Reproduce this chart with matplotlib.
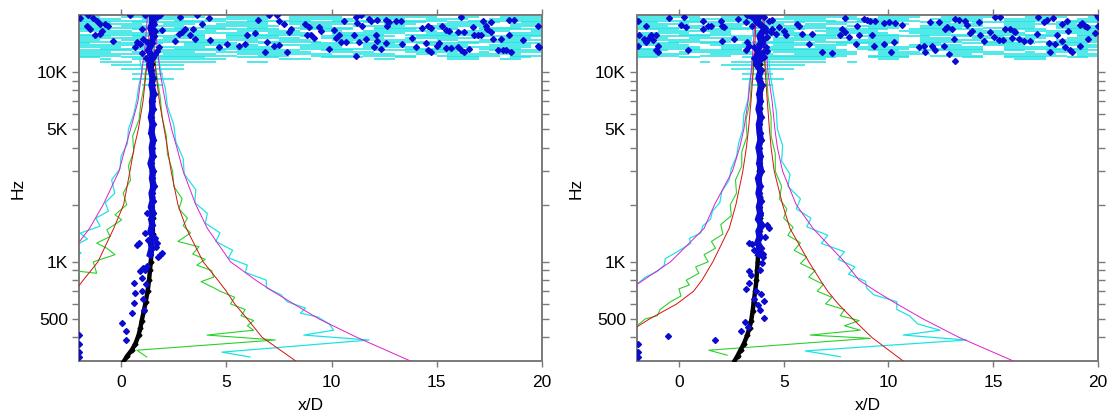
import matplotlib.pyplot as plt
from matplotlib.ticker import FixedLocator, NullFormatter

plt.rcParams['font.family'] = ['Liberation Sans', 'DejaVu Sans']

CYAN = '#1fe3e3'
GREEN = '#2ad12a'
RED = '#d81010'
MAG = '#dc1fd0'
BLUE = '#0a0ad0'
GREY = '#7a7a7a'

# frequency grid of the fitted curves (Hz)
FREQ = [300, 400, 500, 600, 700, 800, 1000, 1500, 2000, 3000, 4000, 5000, 7000, 10000, 14000, 20000]

# fitted curves, left plot (x/D)
red1_l = [-5.5, -3.9, -3.2, -2.6, -2.2, -1.8, -1.1, -0.35, 0.12, 0.42, 0.62, 0.82, 1.04, 1.19, 1.3, 1.38]
red1_r = [8.3, 6.7, 6.0, 5.4, 5.0, 4.6, 3.9, 3.1, 2.7, 2.38, 2.2, 2.05, 1.82, 1.65, 1.55, 1.5]
mag1_l = [-11.0, -8.4, -6.8, -5.6, -4.6, -3.8, -2.7, -1.5, -0.85, -0.1, 0.2, 0.45, 0.8, 0.98, 1.15, 1.25]
mag1_r = [13.75, 11.2, 9.4, 8.2, 7.2, 6.4, 5.2, 4.1, 3.55, 2.95, 2.65, 2.4, 2.1, 1.85, 1.7, 1.6]

# fitted curves, right plot
red2_l = [-4.5, -2.8, -1.4, -0.1, 0.7, 1.1, 1.62, 2.4, 2.72, 3.05, 3.22, 3.32, 3.44, 3.54, 3.62, 3.7]
red2_r = [10.7, 9.2, 8.3, 7.6, 7.1, 6.75, 6.2, 5.3, 4.95, 4.55, 4.4, 4.32, 4.22, 4.12, 4.05, 4.0]
mag2_l = [-8.0, -5.8, -4.4, -3.3, -2.5, -1.7, -0.4, 1.2, 1.7, 2.55, 2.9, 3.1, 3.3, 3.45, 3.55, 3.65]
mag2_r = [15.96, 13.36, 11.65, 10.4, 9.4, 8.6, 7.9, 6.4, 5.6, 4.95, 4.7, 4.58, 4.45, 4.25, 4.15, 4.05]

# measured traces (Hz, x/D)
grn1_r = [(315, 1.22), (342, 0.75), (387, 7.33), (411, 4.08), (436, 6.3), (460, 6.0), (490, 6.3), (520, 5.7),
          (560, 5.9), (600, 5.2), (650, 5.4), (700, 4.7), (730, 4.4), (786, 3.8), (830, 4.4), (900, 4.3),
          (960, 3.6), (1030, 4.0), (1100, 3.4), (1200, 3.7), (1280, 2.7), (1420, 3.3), (1550, 2.95),
          (1700, 3.15), (1900, 2.75), (2150, 2.9), (2500, 2.5), (3000, 2.45), (3700, 2.2), (4600, 2.15),
          (5800, 1.95), (7500, 1.85), (9500, 1.7), (11500, 1.6)]
grn1_l = [(500, -3.6), (600, -2.9), (700, -2.5), (800, -2.2), (890, -1.95), (870, -1.16), (1000, -1.32),
          (1090, -0.29), (1180, -0.68), (1255, -1.16), (1360, -0.52), (1475, -0.68), (1665, 0.03),
          (1770, -0.29), (2000, 0.27), (2300, 0.1), (2700, 0.45), (3200, 0.35), (3800, 0.6), (4600, 0.55),
          (5600, 0.85), (7000, 0.95), (8500, 1.1), (10000, 1.15), (11500, 1.3)]
cyan1_r = [(315, 6.13), (334, 4.79), (387, 11.78), (411, 8.68), (436, 10.1), (470, 9.9), (513, 9.32),
           (536, 8.52), (570, 8.76), (616, 7.89), (670, 7.6), (730, 6.9), (800, 6.9), (880, 5.9), (960, 6.0),
           (1050, 5.1), (1150, 5.3), (1280, 4.5), (1420, 4.7), (1600, 4.0), (1800, 4.1), (2050, 3.5),
           (2400, 3.55), (2900, 3.0), (3500, 2.95), (4300, 2.6), (5300, 2.5), (6600, 2.2), (8200, 2.1),
           (10000, 1.9), (11500, 1.8)]
cyan1_l = [(800, -3.9), (1000, -2.9), (1110, -1.9), (1200, -2.3), (1320, -1.6), (1415, -1.95), (1540, -1.0),
           (1700, -1.2), (1850, -0.6), (2050, -0.75), (2300, -0.3), (2700, -0.45), (3100, -0.05), (3600, 0.0),
           (4200, 0.3), (5000, 0.35), (6000, 0.6), (7200, 0.75), (8600, 0.85), (10000, 1.0), (11500, 0.9)]

grn2_r = [(322, 2.3), (342, 1.43), (395, 9.13), (411, 6.27), (436, 8.65), (460, 7.9), (490, 8.6), (520, 7.7),
          (560, 7.9), (600, 7.0), (650, 7.3), (700, 6.6), (760, 6.9), (830, 6.2), (900, 6.5), (980, 5.8),
          (1060, 6.1), (1150, 5.5), (1260, 5.8), (1380, 5.2), (1520, 5.45), (1700, 5.0), (1900, 5.15),
          (2150, 4.8), (2500, 4.9), (3000, 4.6), (3700, 4.6), (4600, 4.4), (5800, 4.4), (7500, 4.25),
          (9500, 4.2), (11500, 4.1)]
grn2_l = [(430, -2.6), (470, -1.9), (500, -1.6), (520, -1.03), (560, -0.9), (616, -0.4), (660, 0.1),
          (720, 0.0), (755, 0.5), (800, 0.35), (870, 0.95), (940, 0.8), (1000, 1.4), (1090, 1.2), (1180, 1.75),
          (1280, 1.55), (1400, 2.1), (1570, 2.0), (1750, 2.5), (2000, 2.45), (2300, 2.75), (2700, 2.7),
          (3200, 3.0), (3800, 3.0), (4600, 3.25), (5600, 3.2), (7000, 3.4), (8500, 3.45), (10000, 3.55),
          (11500, 3.5)]
cyan2_r = [(316, 7.7), (339, 6.03), (387, 13.73), (411, 10.71), (436, 12.46), (470, 11.4), (520, 11.0),
           (560, 10.4), (616, 10.4), (670, 9.3), (725, 8.97), (790, 8.9), (860, 8.1), (940, 8.4), (1030, 7.6),
           (1130, 7.9), (1250, 6.8), (1380, 7.1), (1530, 6.1), (1700, 6.3), (1900, 5.6), (2150, 5.8),
           (2500, 5.2), (2900, 5.3), (3400, 4.9), (4100, 4.95), (5000, 4.7), (6200, 4.65), (7800, 4.5),
           (9800, 4.35), (11500, 4.3)]
cyan2_l = [(700, -2.5), (770, -1.95), (830, -1.6), (890, -1.03), (960, -0.7), (1040, -0.65), (1130, -0.08),
           (1250, 0.56), (1330, 0.5), (1415, 1.03), (1550, 1.15), (1680, 1.51), (1850, 1.6), (2050, 1.95),
           (2350, 2.05), (2700, 2.4), (3100, 2.5), (3600, 2.75), (4200, 2.85), (5000, 3.05), (6000, 3.1),
           (7200, 3.3), (8600, 3.35), (10000, 3.45), (11500, 3.5)]

# core trace (black) and peak track (blue)
CORE_F = [296, 320, 343, 370, 410, 450, 490, 550, 616, 700, 802, 900, 1000, 1200, 1400, 1700, 2200, 3000,
          4500, 6500, 9000, 11000]
core1_x = [0.11, 0.3, 0.51, 0.68, 0.83, 0.92, 0.98, 1.08, 1.17, 1.26, 1.33, 1.37, 1.41, 1.46, 1.51, 1.5,
           1.48, 1.47, 1.48, 1.46, 1.47, 1.45]
core2_x = [2.62, 2.8, 2.94, 3.1, 3.26, 3.37, 3.45, 3.52, 3.57, 3.64, 3.7, 3.73, 3.76, 3.8, 3.84, 3.86,
           3.85, 3.84, 3.86, 3.85, 3.86, 3.85]

PEAK_F = [1100, 1180, 1260, 1350, 1450, 1560, 1680, 1800, 1950, 2100, 2300, 2500, 2750, 3000, 3300, 3600,
          4000, 4400, 4800, 5300, 5800, 6400, 7000, 7700, 8500, 9300, 10200, 11000, 12000, 13000, 14200,
          15500, 17000, 18500, 20000]
peak1_x = [1.38, 1.45, 1.42, 1.5, 1.4, 1.48, 1.44, 1.52, 1.42, 1.5, 1.45, 1.55, 1.47, 1.52, 1.4, 1.5, 1.46,
           1.53, 1.44, 1.5, 1.42, 1.5, 1.47, 1.55, 1.45, 1.5, 1.42, 1.35, 1.5, 1.3, 1.45, 1.55, 1.4, 1.5, 1.45]
peak2_x = [3.8, 3.9, 3.75, 3.85, 3.8, 3.95, 3.78, 3.88, 3.82, 3.9, 3.8, 3.86, 3.78, 3.92, 3.84, 3.88, 3.8,
           3.9, 3.85, 3.82, 3.9, 3.8, 3.88, 3.84, 3.95, 3.8, 3.9, 3.7, 4.0, 3.75, 3.95, 3.85, 4.1, 3.7, 3.9]

# scattered peaks (x/D, Hz)
pts1 = [(-1.99, 410), (-1.99, 368), (-1.99, 336), (-1.99, 314), (0.59, 776), (0.67, 683), (0.59, 605),
        (0.54, 535), (0.06, 476), (0.24, 432), (0.24, 385), (0.9, 890), (1.0, 820), (0.98, 700), (1.05, 640),
        (1.1, 560), (1.2, 760), (1.38, 1090), (1.94, 1110), (1.75, 1060), (0.75, 1230), (0.85, 1260),
        (1.14, 1415), (1.22, 1810), (1.3, 1300), (1.65, 1200), (1.6, 1330), (1.25, 950), (1.15, 900),
        (1.06, 930), (1.86, 1090), (1.7, 1255), (1.46, 1180),
        (-1.95, 19300), (-1.56, 19900), (-1.32, 19300), (-1.16, 18700), (-1.0, 17900), (-0.76, 17900),
        (-0.6, 17400), (-1.63, 17600), (-1.48, 16900), (-1.24, 15600), (-1.0, 15900), (-0.92, 16400),
        (-0.37, 14500), (0.43, 19900), (1.14, 19900), (1.49, 19500), (1.86, 19900), (1.7, 19500),
        (0.98, 16900), (0.75, 14400), (0.9, 14100), (1.06, 15000), (1.22, 14400), (1.46, 15900),
        (1.62, 16500), (1.54, 17900), (1.94, 16700), (1.78, 13500), (0.67, 13500), (2.57, 14600),
        (2.73, 15900), (2.89, 16200), (2.81, 19500), (3.05, 16900), (3.29, 15600), (3.52, 15000),
        (3.6, 19900), (3.84, 17900), (4.16, 19300), (3.44, 16900), (4.24, 14800), (4.63, 13500),
        (5.03, 14100), (5.59, 13800), (5.9, 14100), (5.98, 15600), (6.38, 16000), (6.51, 18800),
        (7.01, 19900), (7.41, 19900), (7.49, 18700), (7.73, 17900), (7.97, 16200), (8.05, 16900),
        (6.94, 14400), (7.25, 13800), (7.52, 13900), (7.87, 12700), (6.86, 12700), (8.76, 17900),
        (8.84, 15600),
        (8.92, 17200), (9.0, 15600), (9.16, 15200), (9.4, 17200), (9.48, 16500), (10.11, 16700),
        (10.19, 15200), (10.35, 15700), (10.43, 14400), (10.67, 14400), (10.59, 18700), (11.14, 19600),
        (11.38, 19900), (11.22, 18100), (11.46, 17600), (11.78, 19100), (11.86, 18500), (12.18, 18800),
        (12.57, 18800), (12.65, 17600), (12.73, 18300), (13.05, 18500), (13.29, 18500), (12.1, 15600),
        (12.18, 14600), (12.02, 13500), (12.33, 13300), (12.57, 14200), (11.3, 14400), (11.62, 15000),
        (11.06, 15700), (11.14, 12200), (9.87, 13300), (13.37, 14100), (13.84, 15100), (14.0, 13500),
        (14.32, 17000), (14.56, 17600), (14.71, 17000), (14.48, 14200), (14.56, 13100), (14.71, 12700),
        (15.03, 13800), (15.11, 14200), (15.27, 17600), (15.43, 16700), (15.59, 16500), (15.43, 13400),
        (15.67, 13400), (15.99, 16200), (16.3, 16200), (16.14, 19600), (15.99, 13500), (16.14, 13000),
        (16.3, 12700), (16.54, 13300), (16.7, 17200), (16.78, 15600), (16.94, 15700), (17.1, 15700),
        (17.18, 18500), (17.33, 17600), (17.41, 16900), (17.57, 16200), (17.57, 18300), (17.65, 15000),
        (18.05, 15000), (18.13, 13100), (17.89, 13000), (18.29, 13100), (18.44, 15600), (18.52, 12700),
        (18.44, 18800), (18.68, 18800), (19.08, 14800), (19.79, 17600), (19.79, 13800), (19.87, 13500),
        (1.3, 13000), (1.6, 12400), (1.2, 11800), (1.7, 12900), (1.0, 12600)]

pts2 = [(-1.95, 368), (-1.95, 336), (-1.95, 314), (-0.52, 405), (1.7, 385), (2.94, 432), (3.14, 480),
        (3.3, 455), (4.05, 508), (4.05, 620), (3.86, 557), (3.76, 590), (3.6, 640), (3.33, 770), (3.2, 720),
        (3.35, 890), (3.89, 905), (4.02, 1065), (4.02, 1100), (3.33, 1250), (3.5, 1240), (4.21, 1570),
        (4.3, 1500), (3.86, 1770), (3.7, 700), (3.9, 680), (3.45, 850), (3.95, 980), (3.6, 1150), (4.1, 1350),
        (-1.97, 18700), (-1.57, 17400), (-1.89, 15600), (-1.65, 15000), (-1.57, 14400), (-1.41, 15200),
        (-1.33, 15700), (-1.25, 14800), (-1.1, 15600), (-1.01, 13800), (-1.97, 13800), (-1.1, 13000),
        (-1.01, 12700), (-0.46, 19300), (0.1, 17800), (0.33, 17200), (0.26, 19500), (0.41, 13100),
        (1.13, 18700), (1.13, 16900), (1.37, 17600), (1.52, 17400), (2.0, 18700), (2.08, 17600),
        (2.16, 17200), (2.08, 14600), (2.64, 15000), (2.8, 19100), (3.19, 18300), (3.27, 19900),
        (3.35, 19900), (3.51, 19600), (3.67, 19900), (3.9, 19900), (4.06, 19600), (4.3, 18700),
        (4.46, 18800), (4.46, 16900), (3.51, 17600), (3.83, 17900), (4.14, 16500), (4.38, 16200),
        (4.62, 15900), (4.78, 17200), (5.02, 16500), (5.1, 15600), (3.27, 14400), (3.35, 13800),
        (3.19, 13000), (3.59, 13500), (3.83, 14100), (4.06, 15000), (4.22, 15400), (3.75, 12500),
        (3.99, 12700), (4.14, 13500), (5.65, 17900), (5.73, 17600), (5.89, 15900), (6.37, 15900),
        (6.21, 14100), (6.84, 12700), (7.32, 12600), (7.71, 15700), (7.95, 19300), (7.79, 16900),
        (7.95, 16200), (8.11, 15400), (8.51, 17600), (8.59, 15700), (8.43, 14100), (8.83, 19100),
        (8.99, 18800), (9.14, 18700), (9.38, 18500), (9.78, 18100), (10.02, 18300), (10.33, 18100),
        (10.65, 17800), (9.22, 15600), (9.3, 13800), (9.78, 14100), (10.26, 14400), (10.1, 12700),
        (11.45, 13500), (11.69, 13800), (11.76, 12700), (12.08, 13800), (12.24, 13100), (12.64, 13800),
        (12.88, 12400), (13.19, 11400), (12.0, 18300), (12.4, 18300), (12.71, 16900), (13.03, 16900),
        (13.19, 19100), (13.35, 18800), (13.67, 18700), (13.75, 17800), (14.3, 18300), (13.9, 16000),
        (13.98, 16400), (14.38, 15600), (14.54, 14600), (14.86, 16200), (15.02, 15400), (15.1, 19600),
        (15.33, 19600), (15.26, 14800), (15.49, 14800), (15.57, 16900), (15.81, 16900), (15.97, 16500),
        (16.05, 16200), (15.89, 15200), (16.21, 15000), (16.45, 14500), (16.76, 14600), (17.08, 15900),
        (17.16, 19600), (17.4, 18300), (17.56, 18800), (17.87, 19300), (18.03, 15600), (17.95, 14100),
        (17.64, 14200), (17.71, 12700), (18.27, 17900), (18.27, 14500), (18.43, 13500), (18.51, 18700),
        (18.59, 16500), (18.67, 13100), (18.75, 12700), (19.14, 17800), (19.22, 18100), (19.38, 17400),
        (19.14, 13800), (19.46, 17200), (19.54, 15000), (19.86, 16000), (20.0, 17400), (19.94, 19900),
        (20.0, 19600), (13.11, 15000), (12.79, 17200),
        (3.6, 11800), (4.05, 12000), (3.7, 11300), (4.2, 12900)]

# high band noise: one row per frequency, '#' marks a 0.5 x/D cell from x/D = -2
BAND_F = [8600, 9200, 9800, 10400, 10900, 11300, 11700, 11950, 12210, 12470, 12740, 13010, 13290, 13580,
          13870, 14170, 14470, 14780, 15100, 15430, 15760, 16100, 16440, 16800, 17160, 17530, 17900,
          18290, 18680, 19080, 19490, 19900]
band1 = [
    "......##",
    ".....####",
    ".....###",
    "....######",
    "...#######",
    "..###.#######...##",
    "..#..#########.....###......##.....###..##..",
    "##..########...####....####...##...###...##.",
    "####..#########..###..####.#####..######.###",
    "######..#####..#########..####..##.#######..",
    "###..######..#########..####...#####..#.####",
    "#####..#######.######..###..#########..#####",
    "..#####..##########..########..#####..####..",
    "####..######..#####..####..#####..#########.",
    "#######...#######..######..####..####..####.",
    "#..#####..#####..##...########..######..####",
    "####..########..#######..#..######..######..",
    "##..#####..######..###..########..##..######",
    "######..####..#######..######..#######..###.",
    "###..#######..#####..#.#######..####..######",
    "#######..###..########..#####..########..###",
    "..######..######..####..#######..######..###",
    "#####..######..######..##..#######..#####..#",
    "###..#####..#######..#####..####..##..######",
    "#######..#####..##..######..########..####..",
    "##..######..#######..###..#####..######..###",
    "######..###..#####..#######..###..#####..###",
    "###..#######..####..#####..######..#####..##",
    "#######..#####..######..####..#####..#######",
    "####..####..######..######..###..####..#####",
    "##..########..####..#####..#######..##..####",
    "######..#####..#####..######..####..######..",
]
band2 = [
    "...........##",
    "..........####",
    "..........###",
    ".........######",
    "........########",
    "......#..#########..#",
    "...........#######.....##...........###.....",
    "##..##....#########...####.....##..####..##.",
    "####..###..#########..####..#####..######.##",
    "#####..######..######..#####..##.#######..##",
    "##..#######..########..####...#####..#.####.",
    "###..#####..########..###..######..##..#####",
    "######..##..#######..#####..#####..########.",
    "..####..#######..##..######..####..#####..##",
    "#####..####..#######..##..#####..####..#####",
    "####..##..#######..######..##..#######..###.",
    "#..######..####..########..####..###..######",
    "######..###..#####..#####..######..###..####",
    "###..######..#######..###..###..#######..###",
    "#######..####..####..#######..#####..###..##",
    "##..#####..#########..###..#####..######..##",
    "#####..##..#####..######..####..#####..#####",
    "..#######..####..######..#####..###..#######",
    "####..#####..###..######..#######..####..###",
    "######..####..######..###..####..#####..####",
    "###..#####..######..#####..######..###..####",
    "#####..#######..####..####..#####..#######..",
    "##..####..######..#######..###..######..####",
    "######..#####..####..######..####..####..###",
    "###..######..#####..######..#####..#####..##",
    "######..####..#######..####..######..####..#",
    "####..#######..####..######..###..#######..#",
]


def draw_band(ax, rows):
    ys, x0s, x1s = [], [], []
    for f, row in zip(BAND_F, rows):
        row = row.ljust(44, '.')[:44]
        k = 0
        while k < 44:
            if row[k] == '#':
                j = k
                while j < 44 and row[j] == '#':
                    j += 1
                ys.append(f)
                x0s.append(-2 + 0.5 * k)
                x1s.append(-2 + 0.5 * j)
                k = j
            else:
                k += 1
    ax.hlines(ys, x0s, x1s, colors=CYAN, lw=1.1, zorder=1)


def draw_panel(ax, band, reds, mags, greens, cyans, core_x, peak_x, pts):
    draw_band(ax, band)
    for tr in cyans:
        f, x = zip(*tr)
        ax.plot(x, f, color=CYAN, lw=0.9, zorder=2)
    for tr in greens:
        f, x = zip(*tr)
        ax.plot(x, f, color=GREEN, lw=0.8, zorder=3)
    for c in mags:
        ax.plot(c, FREQ, color=MAG, lw=0.7, zorder=4)
    for c in reds:
        ax.plot(c, FREQ, color=RED, lw=0.7, zorder=4)
    ax.plot(core_x, CORE_F, color='k', lw=3.2, marker='D', ms=2.5, zorder=5)
    ax.plot(peak_x, PEAK_F, color=BLUE, lw=4.6, marker='D', ms=3.2, zorder=6)
    px, pf = zip(*pts)
    ax.plot(px, pf, 'D', color=BLUE, ms=3.0, ls='none', zorder=7)

    ax.set_yscale('log')
    ax.set_xlim(-2, 20)
    ax.set_ylim(300, 20000)
    ax.set_xticks([0, 5, 10, 15, 20])
    ax.yaxis.set_major_locator(FixedLocator([500, 1000, 5000, 10000]))
    ax.set_yticklabels(['500', '1K', '5K', '10K'])
    ax.yaxis.set_minor_locator(FixedLocator([400, 600, 700, 800, 900, 2000, 3000, 4000,
                                             6000, 7000, 8000, 9000]))
    ax.yaxis.set_minor_formatter(NullFormatter())
    ax.tick_params(axis='y', which='both', direction='out', left=True, right=True,
                   length=5, width=1, color=GREY, labelsize=12.5, pad=3)
    ax.tick_params(axis='x', which='major', direction='out', top=True, bottom=True,
                   length=4, width=1, color=GREY, labelsize=12.5, pad=6)
    for s in ax.spines.values():
        s.set_color(GREY)
        s.set_linewidth(1.4)
    ax.set_xlabel('x/D', fontsize=12.5, labelpad=6)
    ax.set_ylabel('Hz', fontsize=12.5)
    ax.yaxis.set_label_coords(-0.115, 0.5)


fig = plt.figure(figsize=(11.15, 4.17), dpi=100)
ax1 = fig.add_axes([79 / 1115, 56 / 417, 463 / 1115, 346 / 417])
ax2 = fig.add_axes([637 / 1115, 56 / 417, 461 / 1115, 346 / 417])

draw_panel(ax1, band1, [red1_l, red1_r], [mag1_l, mag1_r], [grn1_l, grn1_r], [cyan1_l, cyan1_r],
           core1_x, peak1_x, pts1)
draw_panel(ax2, band2, [red2_l, red2_r], [mag2_l, mag2_r], [grn2_l, grn2_r], [cyan2_l, cyan2_r],
           core2_x, peak2_x, pts2)

fig.savefig('out.png', dpi=100)
